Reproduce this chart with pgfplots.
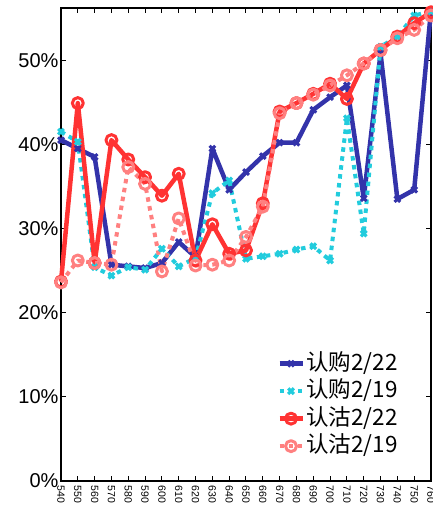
\documentclass[border=0pt]{standalone}
\usepackage{pgfplots}
\pgfplotsset{compat=1.18}
\usepackage{fontspec}
\setmainfont{Liberation Sans}
\newfontfamily\cjk{Noto Sans CJK SC}
\definecolor{cBlue}{RGB}{51,51,170}
\definecolor{cCyan}{RGB}{34,204,221}
\definecolor{cRed}{RGB}{255,51,51}
\definecolor{cPink}{RGB}{255,128,128}
\pgfplotstableread{
x blue cyan red pink
540 40.5 41.5 23.7 23.6
550 39.5 40.3 44.9 26.2
560 38.5 25.4 25.9 25.9
570 25.7 24.4 40.5 25.7
580 25.5 25.4 38.2 37.3
590 25.3 25.1 36.1 35.3
600 25.9 27.6 33.9 24.9
610 28.4 25.5 36.5 31.2
620 26.6 26.5 26.2 25.6
630 39.5 34.2 30.5 25.7
640 34.6 35.7 27.0 26.2
650 36.7 26.4 27.4 29.0
660 38.6 26.7 33.0 32.6
670 40.2 27.0 43.9 43.7
680 40.2 27.5 44.9 44.9
690 44.1 27.9 46.0 45.9
700 45.6 26.2 47.2 47.0
710 47.0 43.1 45.4 48.2
720 33.6 29.4 49.6 49.6
730 50.8 51.6 51.2 51.2
740 33.5 52.8 52.8 52.6
750 34.6 55.3 54.4 53.6
760 55.9 55.8 55.7 55.3
}\datatable
\begin{document}
\begin{tikzpicture}
\begin{axis}[
  scale only axis,
  width=370pt, height=473pt,
  xmin=540, xmax=760, ymin=0, ymax=56.2,
  axis line style={line width=1.6pt},
  every tick/.style={black, line width=1pt},
  major tick length=5pt,
  tick align=inside,
  xtick={540,550,...,760},
  ytick={0,10,...,50},
  /pgf/number format/assume math mode=true,
  /pgf/number format/1000 sep={},
  yticklabel={\pgfmathprintnumber{\tick}\%},
  yticklabel style={font=\fontsize{20}{24}\selectfont, xshift=1pt},
  xticklabel style={font=\fontsize{10.5}{12}\selectfont, rotate=-90, anchor=west, xshift=1pt},
  legend style={draw=none, fill=none, at={(rel axis cs:0.584,0.05)}, anchor=south west,
    font=\cjk\fontsize{22.5}{25}\selectfont, row sep=5.5pt, inner sep=0pt,
    nodes={inner sep=1.5pt, text height=16pt, text depth=3pt}},
  legend cell align=left,
  legend image code/.code={\draw[mark repeat=2,mark phase=2,#1] plot coordinates {(0pt,0pt) (11.5pt,0pt) (23pt,0pt)};},
  every axis plot/.append style={line join=round},
  clip=false,
]
\addplot[cBlue, line width=4.5pt, mark=x, mark size=4pt, mark options={solid, line width=3pt}] table[x=x,y=blue] {\datatable};
\addlegendentry{认购2/22}
\addplot[cCyan, line width=4pt, dash pattern=on 4.5pt off 4.5pt, mark=x, mark size=4pt, mark options={solid, line width=3.2pt}] table[x=x,y=cyan] {\datatable};
\addlegendentry{认购2/19}
\addplot[cRed, line width=4.5pt, mark=o, mark size=5.5pt, mark options={solid, line width=3pt, fill=white}] table[x=x,y=red] {\datatable};
\addlegendentry{认沽2/22}
\addplot[cPink, line width=4pt, dash pattern=on 4.5pt off 4.5pt, mark=o, mark size=5.5pt, mark options={solid, line width=3pt, fill=white}] table[x=x,y=pink] {\datatable};
\addlegendentry{认沽2/19}
\end{axis}
\pgfresetboundingbox
\useasboundingbox (-61pt,-42pt) rectangle (372pt,481pt);
\end{tikzpicture}
\end{document}
